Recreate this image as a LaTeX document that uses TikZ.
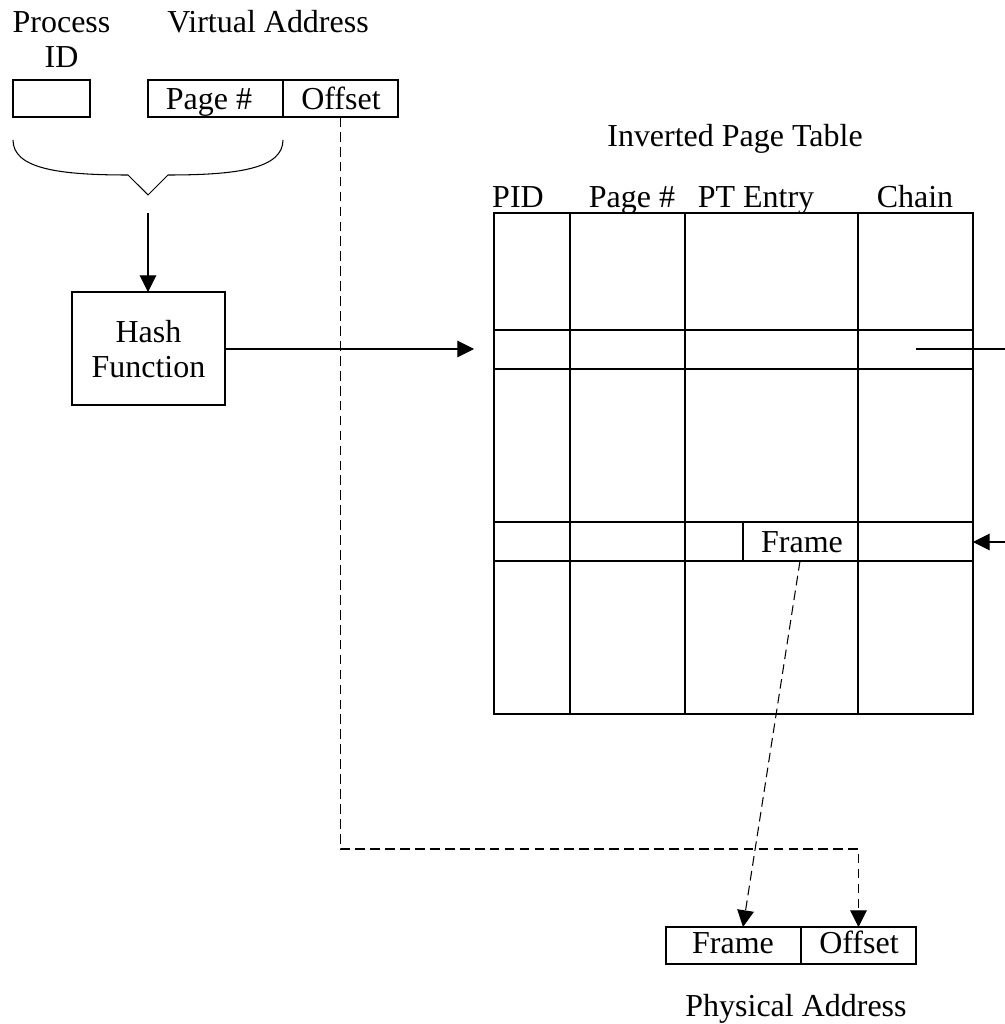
\documentclass[tikz,border=0pt]{standalone}
\usepackage{fontspec}
\setmainfont{Liberation Serif}
\usetikzlibrary{arrows.meta,calc}

\begin{document}
\begin{tikzpicture}[
    line width=0.6pt,
    every node/.style={font=\fontsize{18.2}{20.4}\selectfont},
    cell/.style={draw, rectangle, inner sep=0pt, outer sep=0pt, minimum height=0.74cm},
    lbl/.style={anchor=base, inner sep=0pt},
    arr/.style={-{Triangle[length=9.5pt,width=9.5pt]}},
    dsh/.style={dash pattern=on 5.5pt off 3pt}
]
            \useasboundingbox (0,0) rectangle (20.1,20.48);

            % process id and virtual address
            \node at (1.23,19.12) [lbl, align=center] (procid) {Process\\ID};
            \node at (5.36,19.82) [lbl] (vaddr) {Virtual Address};
            \node at (1.03,18.51) [cell, minimum width=1.54cm] (pid) {};
            \node at (4.31,18.51) [cell, minimum width=2.7cm] (vpage) {};
            \node at (6.81,18.51) [cell, minimum width=2.3cm] (voff) {};
            \node at (4.18,18.28) [lbl] {Page \#};
            \node at (6.82,18.28) [lbl] {Offset};

            % brace under pid and page number
            \draw (0.26,17.68) .. controls (0.26,17.1) and (1.2,16.98) .. (2.56,16.98) -- (2.96,16.58) -- (3.36,16.98) .. controls (4.72,16.98) and (5.66,17.1) .. (5.66,17.68);
            \coordinate (tip) at (2.96,16.22);

            % hash function
            \node at (2.97,13.51) [cell, minimum width=3.06cm, minimum height=2.26cm] (hash) {};
            \node at (2.97,12.92) [lbl, align=center] {Hash\\Function};
            \draw[arr] (tip) -- (tip |- hash.north);

            % inverted page table
            \node at (14.7,17.54) [lbl] (title) {Inverted Page Table};
            \node at (10.36,16.33) [lbl] {PID};
            \node at (12.64,16.33) [lbl] {Page \#};
            \node at (15.12,16.33) [lbl] {PT Entry};
            \node at (18.3,16.33) [lbl] {Chain};
            \node at (14.67,11.21) [cell, minimum width=9.58cm, minimum height=10.02cm] (tbl) {};
            \draw (11.4,16.22) -- (11.4,6.2);
            \draw (13.7,16.22) -- (13.7,6.2);
            \draw (17.16,16.22) -- (17.16,6.2);
            \draw (9.88,13.88) -- (19.46,13.88);
            \draw (9.88,13.1) -- (19.46,13.1);
            \draw (9.88,10.04) -- (19.46,10.04);
            \draw (9.88,9.26) -- (19.46,9.26);
            \node at (16.01,9.65) [cell, minimum width=2.3cm, minimum height=0.78cm, draw=none] (frame) {};
            \draw (frame.north west) -- (frame.south west);
            \node at (16.04,9.42) [lbl] {Frame};

            \draw[arr, shorten >=0.4cm] (hash.east |- 0,13.5) -- (tbl.west |- 0,13.5);
            \coordinate (chainin) at (18.32,13.5);
            \coordinate (chainout) at (20.1,13.5);
            \draw (chainin) -- (chainout);
            \coordinate (nextin) at (20.1,9.64);
            \draw[arr] (nextin) -- (tbl.east |- nextin);

            % physical address
            \node at (14.67,1.57) [cell, minimum width=2.7cm] (pframe) {};
            \node at (17.17,1.57) [cell, minimum width=2.3cm] (poff) {};
            \node at (14.66,1.42) [lbl] {Frame};
            \node at (17.18,1.42) [lbl] {Offset};
            \node at (15.92,0.14) [lbl] (paddr) {Physical Address};

            \draw[dsh, arr] (voff.south) -- (6.81,3.5) -| (poff.north);
            \draw[dsh, arr] (16.0,9.26) -- (14.86,1.94);
          \end{tikzpicture}
\end{document}
